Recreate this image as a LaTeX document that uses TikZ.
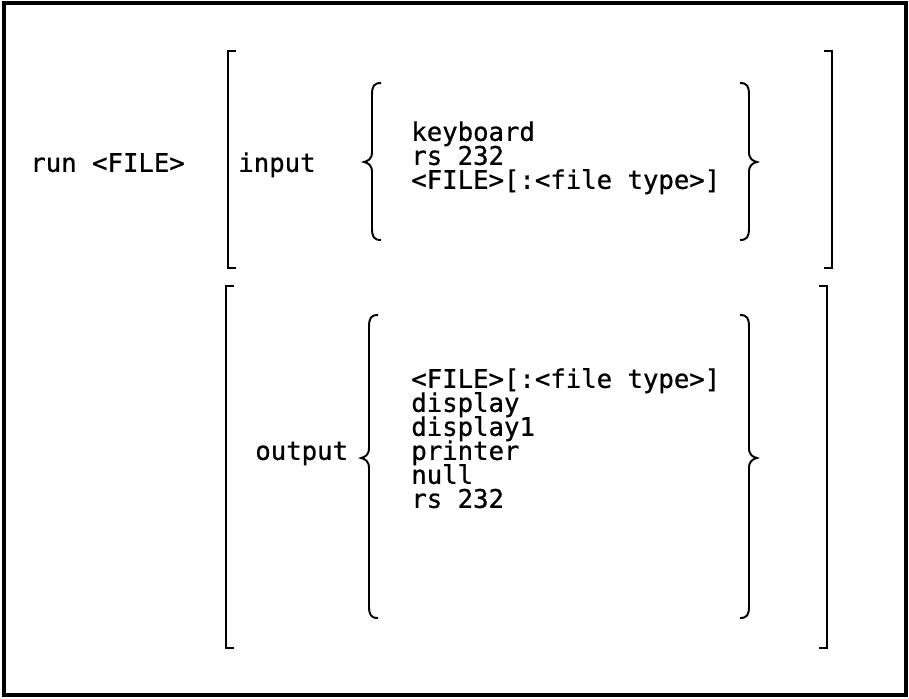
\documentclass[tikz,border=0pt]{standalone}
\usepackage{fontspec}
\setmonofont[FakeBold=0.8]{DejaVu Sans Mono}

% curly brace: #1 = 1 (opens right) or -1 (opens left), #2 = x of the stem,
% #3 = top, #4 = tip, #5 = bottom
\newcommand{\drawbrace}[5]{%
  \draw[brace] ({#2+9*#1},#3) .. controls ({#2+2*#1},#3) and (#2,{#3+3}) .. (#2,{#3+12})
    -- (#2,{#4-10}) .. controls (#2,{#4-3}) and ({#2-4*#1},{#4-1}) .. ({#2-8*#1},#4)
    .. controls ({#2-4*#1},{#4+1}) and (#2,{#4+3}) .. (#2,{#4+10})
    -- (#2,{#5-12}) .. controls (#2,{#5-3}) and ({#2+2*#1},#5) .. ({#2+9*#1},#5);}

\tikzset{
  frame/.style={line width=1.8pt},
  bracket/.style={line width=1.6pt},
  brace/.style={line width=1.1pt},
  txt/.style={font=\ttfamily\fontsize{14.6}{17}\selectfont, anchor=west,
    inner sep=0pt, text height=0.75em, text depth=0.2em}
}

\begin{document}
\begin{tikzpicture}[x=0.02cm, y=-0.02cm]

    % --- Page ---
    \useasboundingbox (0,0) rectangle (909,698);
    \draw[frame] (4,3) rectangle (906,695);

    % --- Command ---
    \node[txt] (run) at (30,167) {run <FILE>};

    % --- Input part ---
    % outer brackets
    \draw[bracket] (236,51) -- (228,51) -- (228,268) -- (236,268);
    \draw[bracket] (824,51) -- (832,51) -- (832,268) -- (824,268);

    \node[txt] (in) at (238,167) {input};

    % choice braces
    \drawbrace{1}{372}{83}{162}{240}
    \drawbrace{-1}{749}{83}{162}{240}

    \node[txt] (inkbd) at (411,136) {keyboard};
    \node[txt] (inrs) at (411,160) {rs 232};
    \node[txt] (infile) at (411,184) {<FILE>[:<file type>]};

    % --- Output part ---
    % outer brackets
    \draw[bracket] (234,286) -- (226,286) -- (226,648) -- (234,648);
    \draw[bracket] (819,286) -- (827,286) -- (827,648) -- (819,648);

    \node[txt] (out) at (255,455) {output};

    % choice braces
    \drawbrace{1}{369}{315}{458}{618}
    \drawbrace{-1}{749}{315}{458}{618}

    \node[txt] (outfile) at (411,383) {<FILE>[:<file type>]};
    \node[txt] (outdisp) at (411,407) {display};
    \node[txt] (outdisp1) at (411,431) {display1};
    \node[txt] (outprn) at (411,455) {printer};
    \node[txt] (outnull) at (411,479) {null};
    \node[txt] (outrs) at (411,503) {rs 232};

\end{tikzpicture}
\end{document}
